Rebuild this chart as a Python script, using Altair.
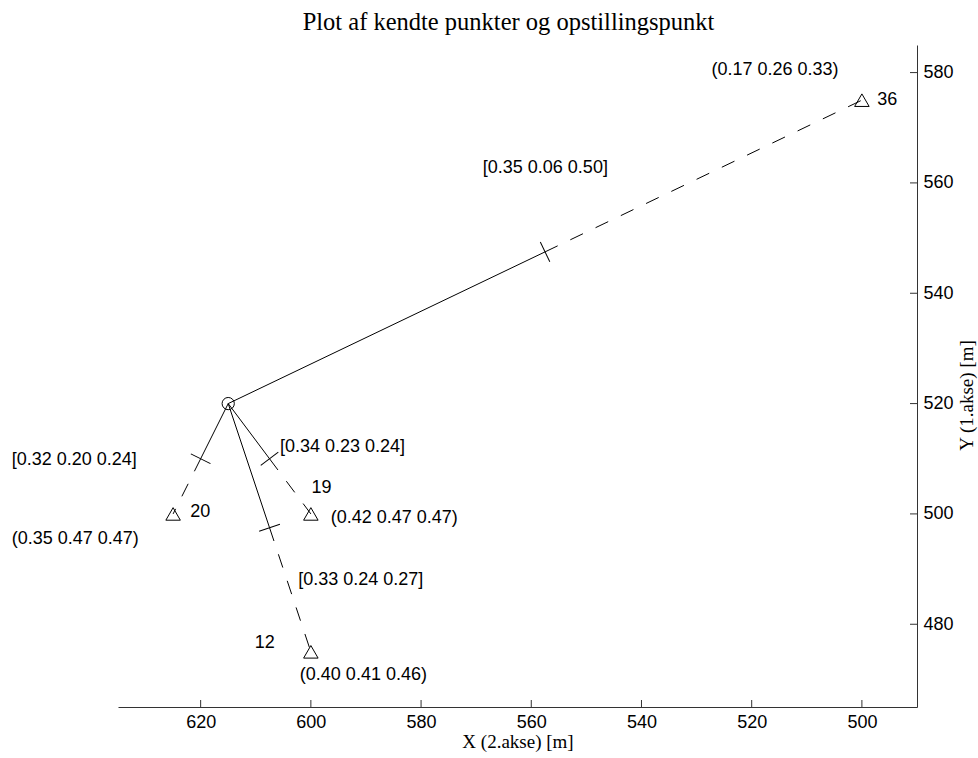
import math
import altair as alt
import pandas as pd

# ---- data ----
station_x = [615]
station_y = [520]

point_names = ["36", "20", "19", "12"]
point_x = [500, 625, 600, 600]
point_y = [575, 500, 500, 475]

# anchor positions (data units) of the point-name labels
name_x = [497.2, 621.9, 599.9, 610.2]
name_y = [575.0, 500.4, 504.75, 476.65]

acc_text = ["(0.17 0.26 0.33)", "(0.35 0.47 0.47)", "(0.42 0.47 0.47)", "(0.40 0.41 0.46)"]
acc_x = [527.3, 654.3, 596.4, 602.0]
acc_y = [580.5, 495.45, 499.3, 470.8]

obs_text = ["[0.35 0.06 0.50]", "[0.32 0.20 0.24]", "[0.34 0.23 0.24]", "[0.33 0.24 0.27]"]
obs_x = [568.8, 654.3, 605.6, 602.3]
obs_y = [562.7, 509.8, 512.1, 488.0]

x_ticks = [620, 600, 580, 560, 540, 520, 500]
y_ticks = [480, 500, 520, 540, 560, 580]

x_domain = [490, 635]
y_domain = [465, 585]

# ---- derived tables ----
W, H = 799, 662
sx, sy = station_x[0], station_y[0]
seg_rows = []
mid_rows = []
for n, px, py in zip(point_names, point_x, point_y):
    mx, my = (sx + px) / 2, (sy + py) / 2
    seg_rows.append({"x": sx, "y": sy, "x2": mx, "y2": my, "kind": "solid"})
    seg_rows.append({"x": mx, "y": my, "x2": px, "y2": py, "kind": "dash"})
    dxs = -(px - sx) * W / (x_domain[1] - x_domain[0])
    dys = -(py - sy) * H / (y_domain[1] - y_domain[0])
    ang = (math.degrees(math.atan2(dys, dxs)) + 90) % 180
    mid_rows.append({"x": mx, "y": my, "angle": ang})
seg = pd.DataFrame(seg_rows)
mids = pd.DataFrame(mid_rows)

pts = pd.DataFrame({"x": point_x, "y": point_y, "name": point_names})
st = pd.DataFrame({"x": station_x, "y": station_y})
names = pd.DataFrame({"x": name_x, "y": name_y, "t": point_names})
accs = pd.DataFrame({"x": acc_x, "y": acc_y, "t": acc_text})
obss = pd.DataFrame({"x": obs_x, "y": obs_y, "t": obs_text})
xt = pd.DataFrame({"x": x_ticks})
yt = pd.DataFrame({"y": y_ticks})

xs = alt.Scale(domain=x_domain, reverse=True, nice=False, zero=False)
ys = alt.Scale(domain=y_domain, nice=False, zero=False)
SANS = "Liberation Sans"
SERIF = "Liberation Serif"

x_axis = alt.Axis(values=x_ticks, ticks=False, grid=False, domainColor="#333",
                  labelFont=SANS, labelFontSize=18, labelColor="black", labelPadding=6,
                  title="X (2.akse) [m]", titleFont=SERIF, titleFontSize=19,
                  titleFontWeight="normal", titleColor="black", titleY=40,
                  titleBaseline="alphabetic")
y_axis = alt.Axis(values=y_ticks, orient="right", ticks=False, grid=False, domainColor="#333",
                  labelFont=SANS, labelFontSize=18, labelColor="black", labelPadding=6,
                  labelAlign="left", labelBaseline="middle",
                  title="Y (1.akse) [m]", titleFont=SERIF, titleFontSize=19,
                  titleFontWeight="normal", titleColor="black", titleAngle=270,
                  titleX=55, titleY=350, titleAlign="center", titleBaseline="alphabetic")

X = alt.X("x:Q", scale=xs, axis=x_axis)
Y = alt.Y("y:Q", scale=ys, axis=y_axis)

solid = alt.Chart(seg[seg.kind == "solid"]).mark_rule(color="black", strokeWidth=1).encode(
    x=X, y=Y, x2="x2:Q", y2="y2:Q")
dashed = alt.Chart(seg[seg.kind == "dash"]).mark_rule(
    color="black", strokeWidth=1, strokeDash=[14, 14]).encode(
    x=X, y=Y, x2="x2:Q", y2="y2:Q")
ticks_mid = alt.Chart(mids).mark_point(shape="stroke", size=480, filled=False,
                                       color="black", strokeWidth=1, opacity=1).encode(
    x=X, y=Y, angle=alt.Angle("angle:Q", scale=None))
tri = alt.Chart(pts).mark_point(shape="triangle-up", size=210, filled=False,
                                color="black", strokeWidth=1, opacity=1).encode(x=X, y=Y)
circ = alt.Chart(st).mark_point(shape="circle", size=150, filled=False,
                                color="black", strokeWidth=1, opacity=1).encode(x=X, y=Y)


def text_layer(df):
    return alt.Chart(df).mark_text(align="left", baseline="middle", font=SANS,
                                   fontSize=18, color="black").encode(
        x=X, y=Y, text="t:N")


xtick_rules = alt.Chart(xt).mark_rule(color="#333", strokeWidth=1).encode(
    x=X, y=alt.value(H), y2=alt.value(H - 7))
ytick_rules = alt.Chart(yt).mark_rule(color="#333", strokeWidth=1).encode(
    y=Y, x=alt.value(W - 7), x2=alt.value(W))

chart = alt.layer(
    solid, dashed, ticks_mid, tri, circ,
    text_layer(names), text_layer(accs), text_layer(obss),
    xtick_rules, ytick_rules,
).properties(
    width=W, height=H,
    background="white",
    title=alt.TitleParams("Plot af kendte punkter og opstillingspunkt", font=SERIF,
                          fontSize=24.5, fontWeight="normal", color="black",
                          anchor="middle", baseline="alphabetic", offset=16, dx=-9,
                          dy=25, frame="group"),
    autosize=alt.AutoSizeParams(type="none"),
    padding={"left": 118, "top": 45, "right": 61, "bottom": 51},
).configure_view(strokeWidth=0, stroke="transparent")

chart.save("out.html", embed_options={"renderer": "svg", "actions": False})
